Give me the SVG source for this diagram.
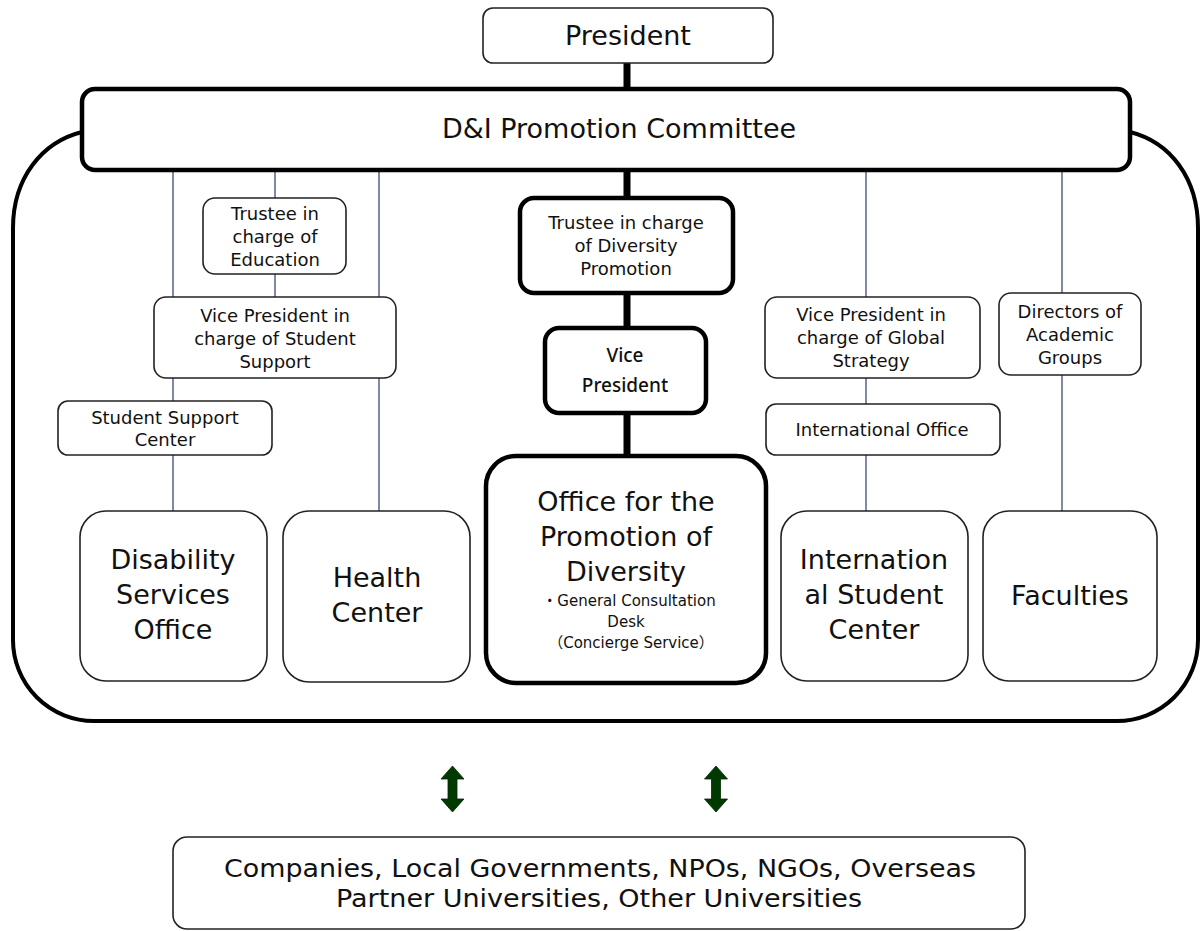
<svg xmlns="http://www.w3.org/2000/svg" width="1200" height="931" viewBox="0 0 1200 931">
<style>
.t{font-family:"DejaVu Sans","Noto Sans CJK JP",sans-serif;fill:#111;text-anchor:middle}
.big{font-size:27px}
.sm{font-size:18px}
.xs{font-size:15px}
.ext{font-size:25px}
.vp{font-family:"Noto Sans","Noto Sans CJK JP",sans-serif;font-size:19px;fill:#111;text-anchor:middle;font-weight:500}
.thin{fill:#fff;stroke:#222;stroke-width:1.6}
.thick{fill:#fff;stroke:#000;stroke-width:4.5}
.nav{stroke:#2b3a6b;stroke-width:1.2;fill:none}
.bar{stroke:#000;stroke-width:7;fill:none}
.arr{fill:#003a00;stroke:#002800;stroke-width:0.8}
</style>
<rect width="1200" height="931" fill="#fff"/>
<g id="container">
<path d="M82,132 C42,142 13,178 13,228 L13,640 A81,81 0 0 0 94,721 L1117,721 A81,81 0 0 0 1198,640 L1198,228 C1198,178 1170,142 1130,132" fill="none" stroke="#000" stroke-width="4"/>
</g>
<g id="connectors">
<line class="bar" x1="627" y1="62" x2="627" y2="92"/>
<line class="bar" x1="627" y1="168" x2="627" y2="200"/>
<line class="bar" x1="627" y1="292" x2="627" y2="330"/>
<line class="bar" x1="627" y1="410" x2="627" y2="458"/>
<line class="nav" x1="173" y1="170" x2="173" y2="297"/>
<line class="nav" x1="173" y1="378" x2="173" y2="401"/>
<line class="nav" x1="173" y1="455" x2="173" y2="511"/>
<line class="nav" x1="275" y1="170" x2="275" y2="198"/>
<line class="nav" x1="275" y1="274" x2="275" y2="297"/>
<line class="nav" x1="379" y1="170" x2="379" y2="297"/>
<line class="nav" x1="379" y1="378" x2="379" y2="511"/>
<line class="nav" x1="866" y1="170" x2="866" y2="297"/>
<line class="nav" x1="866" y1="378" x2="866" y2="404"/>
<line class="nav" x1="866" y1="455" x2="866" y2="511"/>
<line class="nav" x1="1062" y1="170" x2="1062" y2="293"/>
<line class="nav" x1="1062" y1="375" x2="1062" y2="511"/>
<polygon class="arr" points="452.5,766 464,779 457,779 457,799 464,799 452.5,812 441,799 448,799 448,779 441,779"/>
<polygon class="arr" points="716,766 727.5,779 720.5,779 720.5,799 727.5,799 716,812 704.5,799 711.5,799 711.5,779 704.5,779"/>
</g>
<g id="president">
<rect class="thin" x="483" y="8" width="290" height="55" rx="10"/>
<text class="t big" x="628" y="45">President</text>
</g>
<g id="committee">
<rect class="thick" x="82" y="89" width="1048" height="81" rx="13" stroke-width="4"/>
<text class="t big" x="619" y="138">D&amp;I Promotion Committee</text>
</g>
<g id="trustee-education">
<rect class="thin" x="203" y="198" width="143" height="76" rx="12"/>
<text class="t sm" x="275" y="220">Trustee in</text>
<text class="t sm" x="275" y="243">charge of</text>
<text class="t sm" x="275" y="266">Education</text>
</g>
<g id="vp-student-support">
<rect class="thin" x="154" y="297" width="242" height="81" rx="12"/>
<text class="t sm" x="275" y="322">Vice President in</text>
<text class="t sm" x="275" y="345">charge of Student</text>
<text class="t sm" x="275" y="368">Support</text>
</g>
<g id="student-support-center">
<rect class="thin" x="58" y="401" width="214" height="54" rx="10"/>
<text class="t sm" x="165" y="424">Student Support</text>
<text class="t sm" x="165" y="446">Center</text>
</g>
<g id="disability-services-office">
<rect class="thin" x="80" y="511" width="187" height="170" rx="26"/>
<text class="t big" x="173" y="569">Disability</text>
<text class="t big" x="173" y="604">Services</text>
<text class="t big" x="173" y="639">Office</text>
</g>
<g id="health-center">
<rect class="thin" x="283" y="511" width="187" height="171" rx="26"/>
<text class="t big" x="377" y="587">Health</text>
<text class="t big" x="377" y="622">Center</text>
</g>
<g id="trustee-diversity">
<rect class="thick" x="520" y="198" width="213" height="95" rx="14"/>
<text class="t sm" x="626" y="229">Trustee in charge</text>
<text class="t sm" x="626" y="252">of Diversity</text>
<text class="t sm" x="626" y="275">Promotion</text>
</g>
<g id="vice-president">
<rect class="thick" x="545" y="328" width="161" height="85" rx="14" stroke-width="5"/>
<text class="vp" x="625" y="362">Vice</text>
<text class="vp" x="625" y="392">President</text>
</g>
<g id="office-promotion-diversity">
<rect class="thick" x="486" y="456" width="280" height="227" rx="30"/>
<text class="t big" x="626" y="511">Office for the</text>
<text class="t big" x="626" y="546">Promotion of</text>
<text class="t big" x="626" y="581">Diversity</text>
<text class="t xs" x="629" y="606">・General Consultation</text>
<text class="t xs" x="626" y="627">Desk</text>
<text class="t xs" x="631" y="648">（Concierge Service）</text>
</g>
<g id="vp-global-strategy">
<rect class="thin" x="765" y="297" width="215" height="81" rx="12"/>
<text class="t sm" x="871" y="321">Vice President in</text>
<text class="t sm" x="871" y="344">charge of Global</text>
<text class="t sm" x="871" y="367">Strategy</text>
</g>
<g id="directors-academic-groups">
<rect class="thin" x="999" y="293" width="142" height="82" rx="12"/>
<text class="t sm" x="1070" y="318">Directors of</text>
<text class="t sm" x="1070" y="341">Academic</text>
<text class="t sm" x="1070" y="364">Groups</text>
</g>
<g id="international-office">
<rect class="thin" x="766" y="404" width="234" height="51" rx="10"/>
<text class="t sm" x="882" y="436">International Office</text>
</g>
<g id="international-student-center">
<rect class="thin" x="781" y="511" width="187" height="170" rx="26"/>
<text class="t big" x="874" y="569">Internation</text>
<text class="t big" x="874" y="604">al Student</text>
<text class="t big" x="874" y="639">Center</text>
</g>
<g id="faculties">
<rect class="thin" x="983" y="511" width="174" height="170" rx="26"/>
<text class="t big" x="1070" y="605">Faculties</text>
</g>
<g id="external-partners">
<rect class="thin" x="173" y="837" width="852" height="92" rx="14"/>
<text class="t ext" x="600" y="877" textLength="752" lengthAdjust="spacingAndGlyphs">Companies, Local Governments, NPOs, NGOs, Overseas</text>
<text class="t ext" x="599" y="907" textLength="526" lengthAdjust="spacingAndGlyphs">Partner Universities, Other Universities</text>
</g>
</svg>
